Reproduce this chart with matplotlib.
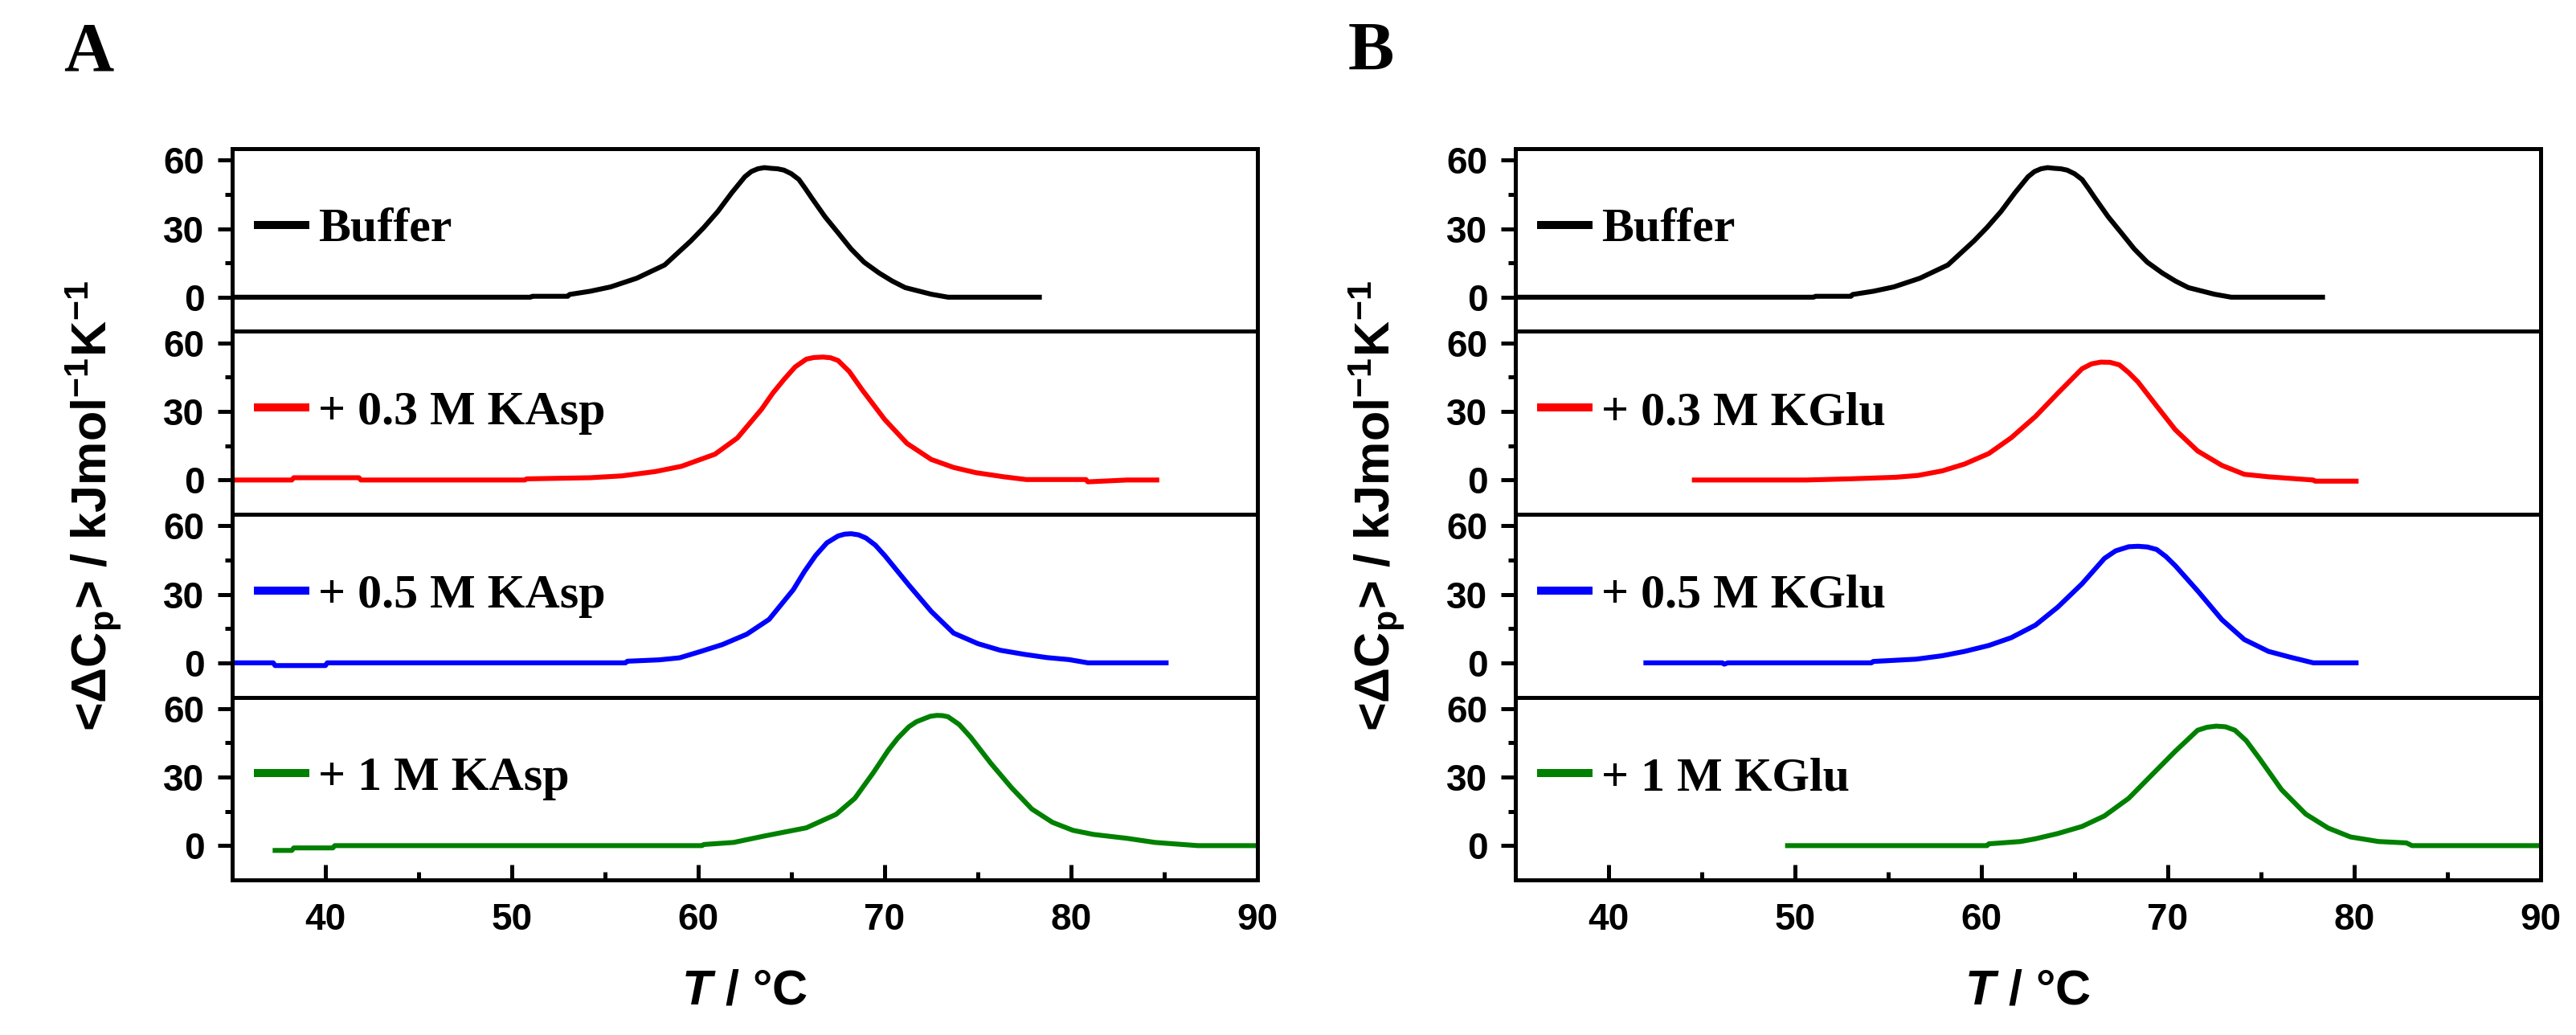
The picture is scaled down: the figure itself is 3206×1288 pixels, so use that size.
import matplotlib
matplotlib.use('Agg')
import matplotlib.pyplot as plt
from matplotlib.ticker import MultipleLocator, FixedLocator

plt.rcParams['mathtext.fontset'] = 'custom'
plt.rcParams['mathtext.rm'] = 'Liberation Sans:bold'
plt.rcParams['mathtext.it'] = 'Liberation Sans:italic:bold'
plt.rcParams['mathtext.bf'] = 'Liberation Sans:bold'
plt.rcParams['axes.unicode_minus'] = True

# ---------------- data ----------------
buffer_T = [35, 51.0, 51.1, 53.0, 53.1, 54.2, 55.3, 56.7, 58.2, 59.6, 60.3, 61.05, 61.8, 62.5,
            62.85, 63.2, 63.55, 63.9, 64.25, 64.6, 65.0, 65.4, 65.75, 66.1, 66.8, 67.5,
            68.2, 68.9, 69.7, 70.4, 71.1, 72.5, 73.4, 78.3]
buffer_Cp = [0, 0, 0.4, 0.4, 1.2, 2.6, 4.5, 8.3, 14.1, 24.6, 30.5, 37.5, 45.7, 52.7,
             55.0, 56.2, 56.7, 56.4, 56.2, 55.6, 54.0, 51.5, 47.5, 43.3, 35.2, 28.2,
             21.1, 15.3, 10.6, 7.1, 4.2, 1.3, 0, 0]

kasp03_T = [35, 38.2, 38.3, 41.8, 41.9, 50.7, 50.8, 54.2, 55.9, 57.7, 59.1, 60.9, 62.1,
            63.4, 64.0, 64.6, 65.2, 65.8, 66.2, 66.7, 67.1, 67.5, 68.1, 68.8, 70.0, 71.2,
            72.5, 73.7, 74.9, 76.4, 77.6, 80.8, 80.9, 83.0, 84.6]
kasp03_Cp = [0, 0, 1.0, 1.0, 0, 0, 0.5, 1.0, 1.8, 3.7, 6.0, 11.3, 18.4,
             31.0, 38.0, 44.0, 49.5, 52.9, 53.6, 53.8, 53.5, 52.3, 47.5, 39.4, 26.5, 16.0,
             9.0, 5.5, 3.2, 1.4, 0.2, 0.2, -0.8, 0, 0]

kasp05_T = [35, 37.2, 37.3, 40.0, 40.1, 56.1, 56.2, 57.9, 59.0, 60.1, 61.3, 62.6, 63.8,
            65.1, 65.7, 66.3, 66.9, 67.5, 67.85, 68.2, 68.6, 69.0, 69.5, 70.0, 71.3, 72.5,
            73.7, 75.0, 76.2, 77.5, 78.7, 79.9, 80.9, 85.1]
kasp05_Cp = [0, 0, -1.2, -1.2, 0, 0, 0.7, 1.3, 2.2, 4.9, 8.0, 12.5, 19.0,
             32.0, 40.0, 47.0, 52.5, 55.5, 56.3, 56.5, 56.0, 54.6, 51.5, 47.0, 34.0, 22.5,
             13.0, 8.4, 5.5, 3.7, 2.3, 1.4, 0, 0]

kasp1_T = [37.3, 38.2, 38.3, 40.4, 40.5, 60.2, 60.3, 61.9, 63.6, 65.8, 67.4, 68.4, 69.4,
           70.2, 70.7, 71.3, 71.7, 72.1, 72.45, 72.8, 73.1, 73.4, 74.0, 74.6, 75.7, 76.8,
           77.9, 79.0, 80.1, 81.2, 83.0, 84.5, 86.8, 90.0]
kasp1_Cp = [-2.1, -2.1, -1.0, -1.0, 0, 0, 0.5, 1.4, 4.3, 7.8, 13.7, 20.7, 32.0,
            41.8, 47.0, 52.0, 54.2, 55.5, 56.6, 57.0, 56.9, 56.4, 53.0, 47.6, 36.0, 25.4,
            16.0, 10.2, 6.7, 4.9, 3.2, 1.4, 0, 0]

kglu03_T = [44.6, 50.6, 52.9, 55.4, 56.6, 57.9, 59.1, 60.4, 61.6, 62.9, 64.1, 65.4,
            65.9, 66.4, 66.9, 67.4, 67.9, 68.4, 69.4, 70.4, 71.6, 72.9, 74.1, 75.4,
            77.8, 77.9, 80.1]
kglu03_Cp = [0, 0, 0.5, 1.2, 2.0, 4.0, 7.0, 11.6, 18.5, 27.8, 38.0, 48.7,
             50.8, 51.6, 51.5, 50.4, 47.0, 42.9, 32.4, 22.0, 12.7, 6.4, 2.5, 1.4,
             0, -0.5, -0.5]

kglu05_T = [42.0, 46.1, 46.2, 46.4, 54.1, 54.2, 56.5, 57.9, 59.1, 60.4, 61.6, 62.9, 64.1,
            65.4, 66.6, 67.2, 67.9, 68.4, 68.9, 69.4, 69.9, 70.4, 71.6, 72.9, 74.1, 75.4,
            76.6, 77.8, 80.1]
kglu05_Cp = [0, 0, -0.6, 0, 0, 0.6, 1.6, 3.1, 5.0, 7.6, 11.0, 16.5, 24.4,
             34.6, 45.7, 49.0, 50.8, 51.0, 50.7, 49.6, 46.5, 42.5, 31.5, 18.9, 10.2, 5.0,
             2.4, 0, 0]

kglu1_T = [49.6, 60.3, 60.4, 62.1, 62.9, 64.1, 65.4, 66.6, 67.9, 69.1, 70.4, 71.6, 72.1,
           72.6, 73.1, 73.6, 74.2, 74.9, 76.1, 77.4, 78.6, 79.8, 81.3, 82.8, 83.1, 90.0]
kglu1_Cp = [0, 0, 0.8, 1.8, 3.0, 5.3, 8.4, 13.0, 20.7, 30.6, 41.3, 50.5, 51.8,
            52.3, 52.0, 50.5, 46.0, 38.3, 24.5, 13.8, 7.7, 3.8, 1.8, 1.2, 0, 0]

labels_A = ['Buffer', '+ 0.3 M KAsp', '+ 0.5 M KAsp', '+ 1 M KAsp']
labels_B = ['Buffer', '+ 0.3 M KGlu', '+ 0.5 M KGlu', '+ 1 M KGlu']
colors = ['#000000', '#ff0000', '#0000ff', '#008000']
panel_letters = ['A', 'B']
x_ticks = [40, 50, 60, 70, 80, 90]
y_ticks = [0, 30, 60]

series_A = [(buffer_T, buffer_Cp), (kasp03_T, kasp03_Cp), (kasp05_T, kasp05_Cp), (kasp1_T, kasp1_Cp)]
series_B = [(buffer_T, buffer_Cp), (kglu03_T, kglu03_Cp), (kglu05_T, kglu05_Cp), (kglu1_T, kglu1_Cp)]

# ---------------- figure ----------------
W, H, DPI = 3206, 1288, 200
fig = plt.figure(figsize=(W / DPI, H / DPI), dpi=DPI)

sans = 'Liberation Sans'
serif = 'Liberation Serif'
lefts = [289 / W, 1886 / W]
width = 1276 / W
bottom0 = 1 - 1095 / H
ph = (1095 - 185) / 4 / H
spine_w = 1.8

for p, (series, labels) in enumerate([(series_A, labels_A), (series_B, labels_B)]):
    for i in range(4):
        ax = fig.add_axes([lefts[p], bottom0 + (3 - i) * ph, width, ph])
        T, Cp = series[i]
        line, = ax.plot(T, Cp, color=colors[i], lw=2.2, solid_joinstyle='round')
        ax.set_xlim(35, 90)
        ax.set_ylim(-15, 65)
        for s in ax.spines.values():
            s.set_linewidth(spine_w)
        ax.yaxis.set_major_locator(FixedLocator(y_ticks))
        ax.yaxis.set_minor_locator(FixedLocator([15, 45]))
        ax.tick_params(axis='y', which='major', direction='out', length=6.5, width=spine_w,
                       pad=6, labelsize=16.5)
        ax.tick_params(axis='y', which='minor', direction='out', length=3.3, width=spine_w)
        for lab in ax.get_yticklabels():
            lab.set_fontfamily(sans)
            lab.set_fontweight('bold')
        ax.xaxis.set_major_locator(FixedLocator(x_ticks))
        ax.xaxis.set_minor_locator(MultipleLocator(5))
        if i == 3:
            ax.tick_params(axis='x', which='major', direction='in', length=7, width=spine_w,
                           pad=10, labelsize=16.5, top=False)
            ax.tick_params(axis='x', which='minor', direction='in', length=3.5, width=spine_w,
                           top=False)
            for lab in ax.get_xticklabels():
                lab.set_fontfamily(sans)
                lab.set_fontweight('bold')
        else:
            ax.tick_params(axis='x', which='both', bottom=False, top=False, labelbottom=False)
        leg = ax.legend([line], [labels[i]], loc='center left',
                        bbox_to_anchor=(0.0215, 0.556), frameon=False,
                        handlelength=1.15, handletextpad=0.17, borderpad=0,
                        borderaxespad=0,
                        prop={'family': serif, 'weight': 'bold', 'size': 21.6})
        for lg in leg.get_lines():
            lg.set_linewidth(3.6)
            lg.set_solid_capstyle('butt')

    # y label
    fig.text(lefts[p] - 172 / W, 1 - 630 / H,
             r'<ΔC$_{\mathrm{p}}$> / kJmol$^{\mathrm{-1}}$K$^{\mathrm{-1}}$', rotation=90,
             ha='center', va='center', fontsize=22, fontfamily=sans, fontweight='bold')
    # x label
    fig.text(lefts[p] + width / 2, 1 - 1234 / H, r'$\mathit{T}$ / °C',
             ha='center', va='center', fontsize=22, fontfamily=sans, fontweight='bold')
    # panel letter
    fig.text([79 / W, 1678 / W][p], 1 - 87 / H, panel_letters[p], ha='left', va='baseline',
             fontsize=31, fontfamily=serif, fontweight='bold')

fig.savefig('out.png', dpi=DPI, facecolor='white')
